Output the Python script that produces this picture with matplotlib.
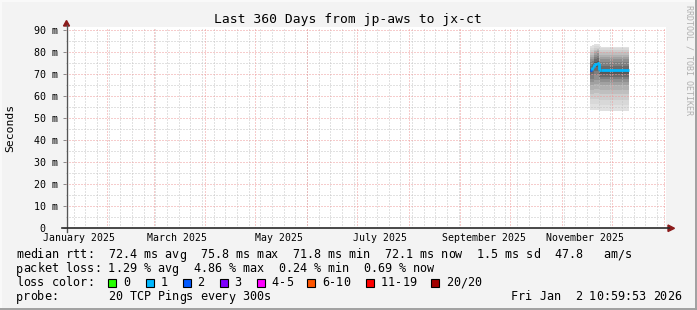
import matplotlib
matplotlib.use("Agg")
import matplotlib.pyplot as plt
from matplotlib.lines import Line2D
from matplotlib.patches import Polygon, Rectangle
from datetime import datetime, timedelta

# ---------------- data ----------------
title = "Last 360 Days from jp-aws to jx-ct"
range_start = datetime(2025, 1, 7, 10, 59, 53)
range_end = datetime(2026, 1, 2, 10, 59, 53)

bin_edges = ["2025-11-17 20:00", "2025-11-19 04:00", "2025-11-20 12:00",
             "2025-11-21 20:00", "2025-11-23 04:00", "2025-11-24 12:00",
             "2025-12-11 06:00"]
median_ms = [71.9, 73.3, 74.6, 75.2, 72.1, 72.0]
loss_count = [2, 1, 1, 1, 1, 1]
pings_ms = [
    [54.0, 56.5, 59.0, 61.0, 63.0, 65.0, 66.5, 68.0, 69.5, 71.0,
     72.5, 74.0, 75.5, 77.0, 78.0, 79.0, 80.0, 81.0, 82.0, 83.0],
    [54.0, 56.5, 59.0, 61.0, 63.0, 65.0, 66.5, 68.0, 70.0, 72.0,
     74.0, 75.0, 76.0, 77.0, 78.0, 79.0, 80.0, 81.0, 82.0, 83.5],
    [54.0, 56.5, 59.0, 61.5, 63.5, 65.5, 67.5, 69.5, 71.5, 73.5,
     75.5, 77.0, 78.0, 79.0, 80.0, 80.5, 81.0, 82.0, 83.0, 84.0],
    [54.0, 56.5, 59.0, 61.5, 63.5, 65.5, 67.5, 69.5, 71.5, 73.5,
     76.0, 77.5, 78.5, 79.5, 80.5, 81.0, 81.5, 82.0, 83.0, 84.0],
    [53.5, 56.0, 58.5, 61.0, 63.0, 65.0, 66.5, 68.0, 69.0, 70.0,
     72.5, 74.0, 75.5, 77.0, 78.0, 79.0, 80.0, 81.0, 82.0, 83.0],
    [53.5, 56.0, 58.5, 61.0, 63.0, 65.0, 66.5, 68.0, 69.0, 70.0,
     72.5, 74.0, 75.5, 77.0, 78.0, 79.0, 80.0, 81.0, 82.0, 82.5],
]

ytick_values = [0, 10, 20, 30, 40, 50, 60, 70, 80, 90]
ytick_labels = ["0  ", "10 m", "20 m", "30 m", "40 m", "50 m", "60 m", "70 m", "80 m", "90 m"]
xlabel_dates = ["2025-01-15", "2025-03-15", "2025-05-15", "2025-07-15", "2025-09-15", "2025-11-15"]
xlabel_texts = ["January 2025", "March 2025", "May 2025", "July 2025", "September 2025", "November 2025"]

legend_rows = [
    "median rtt:  72.4 ms avg  75.8 ms max  71.8 ms min  72.1 ms now  1.5 ms sd  47.8   am/s",
    "packet loss: 1.29 % avg  4.86 % max  0.24 % min  0.69 % now",
]
loss_labels = ["0", "1", "2", "3", "4-5", "6-10", "11-19", "20/20"]
loss_colors = ["#26ff00", "#00b8ff", "#0059ff", "#7e00ff", "#ff00ff", "#ff5500", "#ff0000", "#a10000"]
probe_text = "probe:       20 TCP Pings every 300s"
stamp_text = "Fri Jan  2 10:59:53 2026"

# ---------------- layout ----------------
W, H = 697, 310
MONO = "DejaVu Sans Mono"
plt.rcParams["font.family"] = MONO

fig = plt.figure(figsize=(W / 100, H / 100), dpi=100)
fig.patch.set_facecolor("#f3f3f3")

def fx(x):
    return x / W

def fy(y):
    return 1 - y / H

ax_l, ax_r, ax_t, ax_b = 66, 666, 27, 228.3
ax = fig.add_axes([fx(ax_l), fy(ax_b), (ax_r - ax_l) / W, (ax_b - ax_t) / H])
ax.set_facecolor("white")
ax.set_xlim(range_start, range_end)
ax.set_ylim(0, 91.5)
for s in ax.spines.values():
    s.set_visible(False)

# grid (dotted) : minor gray, major red
dot = (0, (1, 2))
grid_gray = "#c4c4c4"
grid_red = "#ee9a9a"
glw = 0.72
d = datetime(2025, 1, 12)
while d < range_end:
    ax.axvline(d, color=grid_gray, lw=glw, ls=dot, zorder=3, snap=True)
    d += timedelta(days=7)
for v in range(5, 91, 5):
    if v % 10:
        ax.axhline(v, color=grid_gray, lw=glw, ls=dot, zorder=3, snap=True)
for v in ytick_values[1:]:
    ax.axhline(v, color=grid_red, lw=glw, ls=dot, zorder=3.1, snap=True)
y, m = 2025, 2
while datetime(y, m, 1) < range_end:
    ax.axvline(datetime(y, m, 1), color=grid_red, lw=glw, ls=dot, zorder=3.1, snap=True)
    m += 1
    if m > 12:
        m, y = 1, y + 1

# smoke
edges = [datetime.strptime(e, "%Y-%m-%d %H:%M") for e in bin_edges]
n_p = len(pings_ms[0])
half = n_p // 2
for i in range(1, half + 1):
    g = int(round(224 - (224 - 88) * ((i - 1) / (half - 1)) ** 1.3))
    col = "#%02x%02x%02x" % (g, g, g)
    lo = [p[i - 1] for p in pings_ms]
    hi = [p[n_p - i] for p in pings_ms]
    ax.fill_between(edges, lo + [lo[-1]], hi + [hi[-1]], step="post",
                    color=col, lw=0, zorder=2)

# median line coloured by loss
def loss_color(n):
    if n <= 3:
        return loss_colors[n]
    if n <= 5:
        return loss_colors[4]
    if n <= 10:
        return loss_colors[5]
    if n <= 19:
        return loss_colors[6]
    return loss_colors[7]

for k in range(len(median_ms)):
    c = loss_color(loss_count[k])
    ax.plot([edges[k], edges[k + 1]], [median_ms[k], median_ms[k]], color=c,
            lw=2.0, solid_capstyle="butt", zorder=5)
    if k > 0:
        ax.plot([edges[k], edges[k]], [median_ms[k - 1], median_ms[k]], color=c,
                lw=2.0, solid_capstyle="butt", zorder=5)

# ticks
ax.set_yticks(ytick_values)
ax.set_yticklabels(ytick_labels, fontsize=7.2)
ax.tick_params(axis="y", length=2, width=0.7, color="#888888", pad=4)
ax.set_xticks([datetime.strptime(s, "%Y-%m-%d") for s in xlabel_dates])
ax.set_xticklabels(xlabel_texts, fontsize=7.1)
ax.tick_params(axis="x", length=0, pad=3.5)

# axis lines and arrows
axis_col = "#2a2a2a"
arrow_col = "#8b1a1a"
fig.add_artist(Line2D([fx(ax_l + 0.5), fx(ax_l + 0.5)], [fy(232), fy(25)], color="#555555", lw=1.0))
fig.add_artist(Line2D([fx(62), fx(669)], [fy(ax_b), fy(ax_b)], color=axis_col, lw=1.2))
fig.add_artist(Polygon([[fx(63.5), fy(26)], [fx(69.5), fy(26)], [fx(66.5), fy(20.5)]],
                       closed=True, color=arrow_col, transform=fig.transFigure))
fig.add_artist(Polygon([[fx(668), fy(225)], [fx(668), fy(231.5)], [fx(674.5), fy(228.3)]],
                       closed=True, color=arrow_col, transform=fig.transFigure))

# title and labels
fig.text(fx(348), fy(19), title, ha="center", va="center", fontsize=9.4)
fig.text(fx(10), fy(128), "Seconds", rotation=90, ha="center", va="center", fontsize=8.2)
fig.text(fx(689), fy(5), "RRDTOOL / TOBI OETIKER", rotation=270, ha="center", va="top",
         fontsize=6.0, color="#b0b0b0")

# legend (monospace text laid on a fixed character grid)
fs = 8.45
CW = 7.08
X0 = 16

def mono_row(text, ypix, x0=X0):
    for ci, ch in enumerate(text):
        if ch != " ":
            fig.text(fx(x0 + ci * CW + CW / 2), fy(ypix), ch, ha="center",
                     va="center", fontsize=fs)

mono_row(legend_rows[0], 255)
mono_row(legend_rows[1], 269)
mono_row("loss color:", 283)
box_x = [108, 145.5, 182.5, 219.5, 256.5, 307, 366, 431]
for bx, lab, col in zip(box_x, loss_labels, loss_colors):
    fig.add_artist(Rectangle((fx(bx), fy(286.5)), 8 / W, 8 / H, facecolor=col,
                             edgecolor="black", lw=0.8, transform=fig.transFigure))
    mono_row(lab, 283, x0=bx + 15)
mono_row(probe_text, 297)
mono_row(stamp_text, 297, x0=681 - len(stamp_text) * CW)

# 3D frame
fig.add_artist(Line2D([0, 1], [fy(0.5), fy(0.5)], color="#fafafa", lw=1.4))
fig.add_artist(Line2D([fx(0.5), fx(0.5)], [0, 1], color="#fafafa", lw=1.4))
fig.add_artist(Line2D([0, 1], [fy(309), fy(309)], color="#a0a0a0", lw=1.4))
fig.add_artist(Line2D([fx(696), fx(696)], [0, 1], color="#a0a0a0", lw=1.4))

fig.savefig("out.png", dpi=100, facecolor=fig.get_facecolor())
